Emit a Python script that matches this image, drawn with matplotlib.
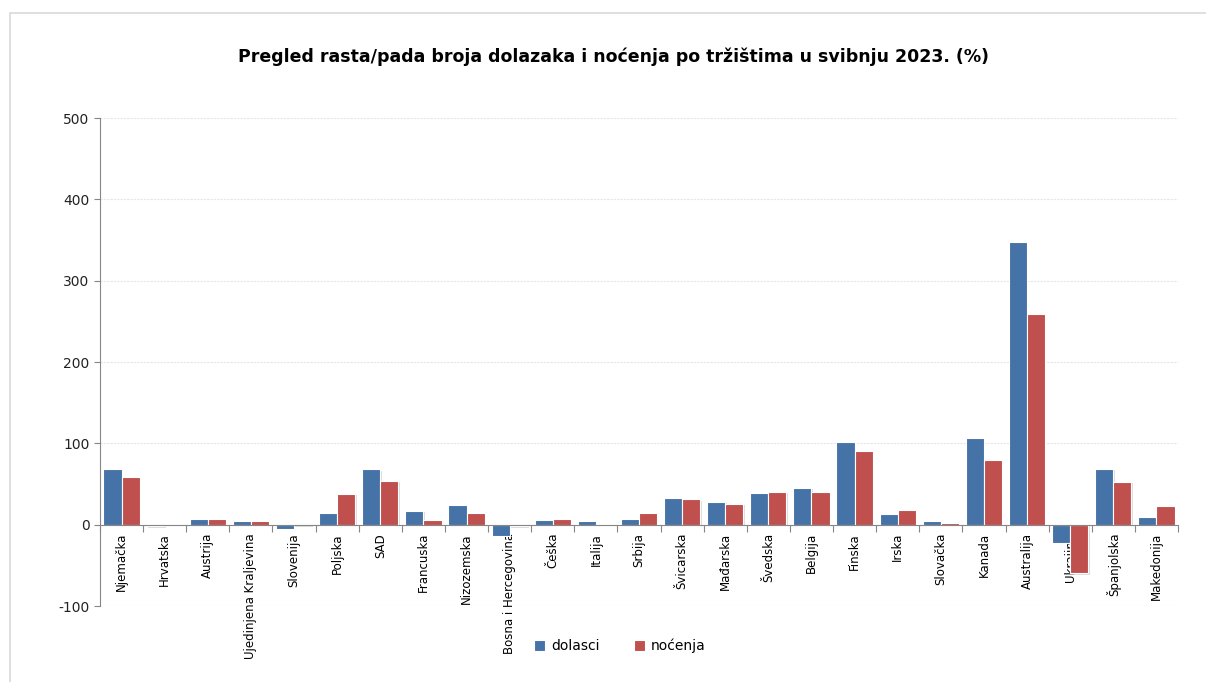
import numpy as np
import matplotlib
matplotlib.use('Agg')
import matplotlib.pyplot as plt
from matplotlib.patches import Rectangle

plt.rcParams['axes.unicode_minus'] = False

markets = ['Njemačka', 'Hrvatska', 'Austrija', 'Ujedinjena Kraljevina', 'Slovenija',
           'Poljska', 'SAD', 'Francuska', 'Nizozemska', 'Bosna i Hercegovina',
           'Češka', 'Italija', 'Srbija', 'Švicarska', 'Mađarska', 'Švedska',
           'Belgija', 'Finska', 'Irska', 'Slovačka', 'Kanada', 'Australija',
           'Ukrajina', 'Španjolska', 'Makedonija']
dolasci = [69, -2, 7, 4, -5, 14, 68, 17, 24, -14, 6, 4, 7, 33, 28, 39, 45,
           102, 13, 4, 107, 347, -22, 69, 9]
nocenja = [58, -0.5, 7, 4, -1, 38, 54, 6, 14, -2, 7, 0.3, 14, 31, 26, 40, 40,
           90, 18, 2.5, 80, 259, -60, 53, 23]

blue = '#4572A7'
red = '#C0504D'

fig = plt.figure(figsize=(12.06, 6.82), dpi=100)
ax = fig.add_axes([100 / 1206, 1 - 606 / 682, 1078 / 1206, 488 / 682])

# chart area frame
fig.patches.append(Rectangle((10 / 1206, -0.1), 1.2, 1 - 13 / 682 + 0.1,
                             transform=fig.transFigure, fill=False,
                             edgecolor='#d9d9d9', linewidth=1.2))

x = np.arange(len(markets))
w = 0.42
kw = dict(edgecolor='white', linewidth=0.8, zorder=3)
b1 = ax.bar(x - w / 2, dolasci, w, color=blue, label='dolasci', **kw)
b2 = ax.bar(x + w / 2, nocenja, w, color=red, label='noćenja', **kw)
# soft shadow
for bars in (b1, b2):
    for r in bars:
        ax.add_patch(Rectangle((r.get_x() + 0.03, min(r.get_y(), r.get_y() + r.get_height()) - 1.5),
                               r.get_width(), abs(r.get_height()), color='#bbbbbb',
                               alpha=0.5, zorder=2, linewidth=0))

ax.set_xlim(-0.5, len(markets) - 0.5)
ax.set_ylim(-100, 500)
ax.set_yticks(range(-100, 501, 100))
ax.grid(axis='y', color='#e6e6e6', linewidth=0.8, linestyle=(0, (2, 1)), zorder=0)

for s in ['top', 'right']:
    ax.spines[s].set_visible(False)
ax.spines['left'].set_color('#868686')
ax.spines['bottom'].set_position(('data', 0))
ax.spines['bottom'].set_color('#868686')
ax.spines['bottom'].set_zorder(4)

ax.set_xticks(np.arange(len(markets) + 1) - 0.5, minor=False)
ax.set_xticklabels([])
ax.set_xticks(x, minor=True)
ax.set_xticklabels(markets, minor=True, rotation=90, fontsize=8.5, va='top', ha='center')
ax.tick_params(axis='x', which='major', length=5, color='#868686', direction='out')
ax.tick_params(axis='x', which='minor', length=0, pad=6)
ax.tick_params(axis='y', length=4, color='#868686', labelsize=10)
for t in ax.get_yticklabels():
    t.set_color('#222222')

fig.text(613 / 1206, 1 - 57 / 682,
         'Pregled rasta/pada broja dolazaka i noćenja po tržištima u svibnju 2023. (%)',
         fontsize=12.5, fontweight='bold', ha='center', va='center')

fig.legend(handles=[b1, b2], loc='center', bbox_to_anchor=(620 / 1206, 1 - 646 / 682),
           ncol=2, frameon=False, fontsize=10, handlelength=0.8, handleheight=0.8,
           columnspacing=2.5, handletextpad=0.4)

plt.savefig('out.png', dpi=100)
